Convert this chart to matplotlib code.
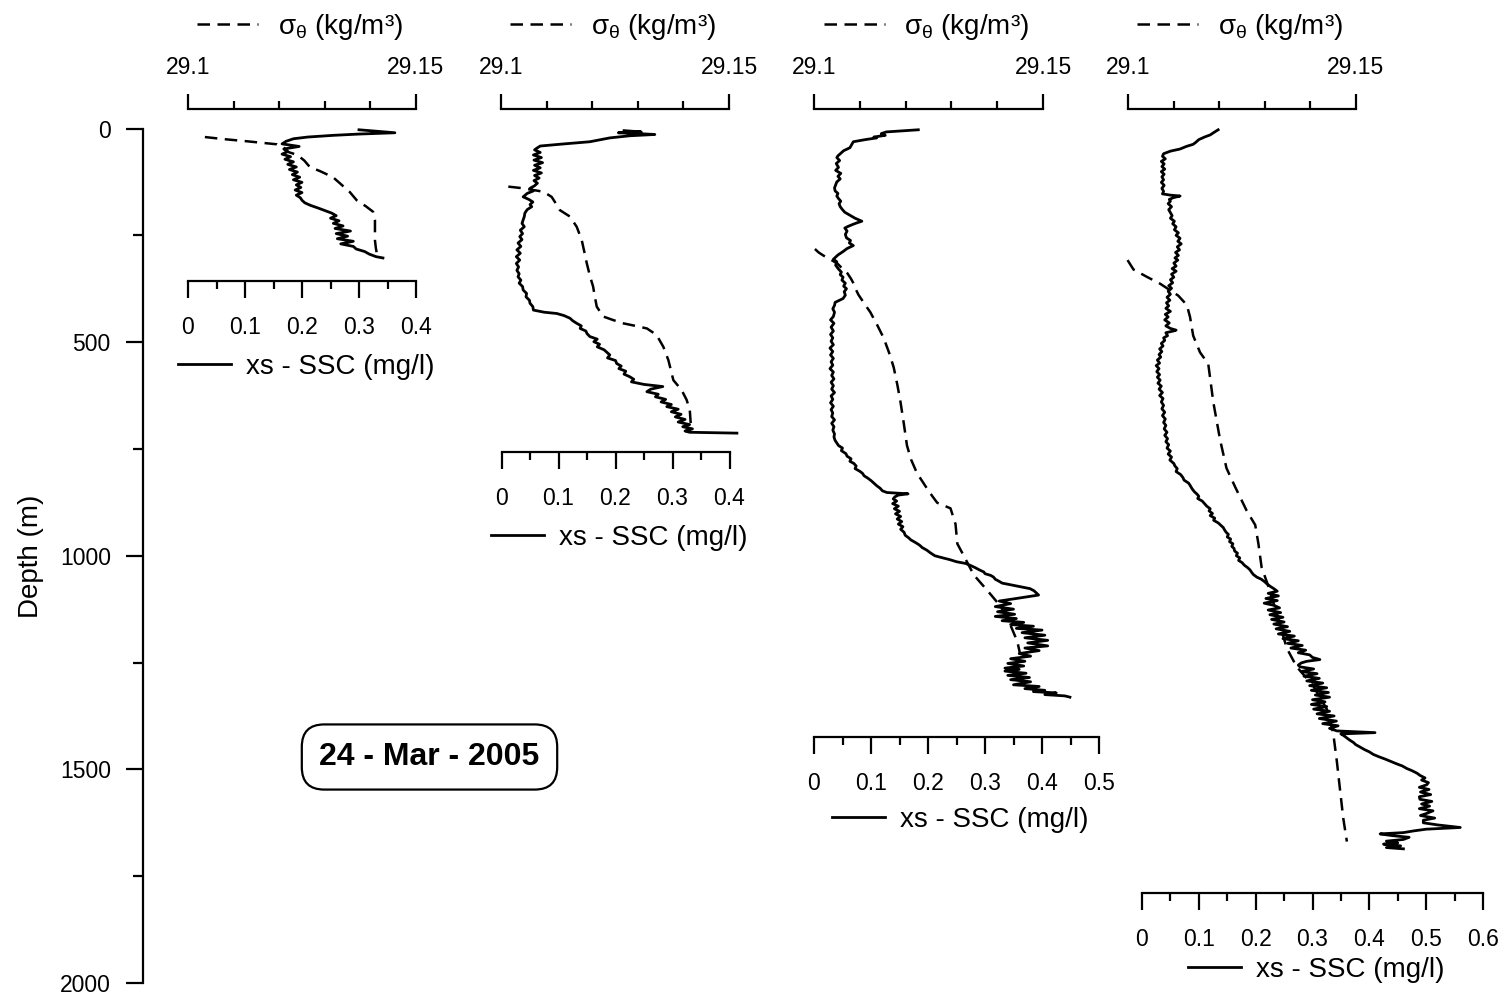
import matplotlib
matplotlib.use("Agg")
import matplotlib.pyplot as plt
from matplotlib.ticker import FixedLocator, MultipleLocator, FuncFormatter

plt.rcParams['font.family'] = ['Liberation Sans', 'DejaVu Sans']
plt.rcParams['mathtext.fontset'] = 'custom'
plt.rcParams['mathtext.rm'] = 'Liberation Sans'
plt.rcParams['mathtext.it'] = 'Liberation Sans:italic'

# ---------------------------------------------------------------- data
# Station 1
z_ssc1 = [3, 10, 13, 16, 20, 24, 30, 36, 42, 48, 54, 60, 66, 72, 78, 84, 90, 96, 102,
          108, 114, 120, 126, 132, 138, 144, 150, 156, 162, 168, 174, 180, 186, 192, 198,
          204, 210, 216, 222, 228, 234, 240, 246, 252, 258, 264, 270, 276, 282, 288, 294,
          300, 303]
ssc1 = [0.30, 0.363, 0.30, 0.255, 0.21, 0.185, 0.172, 0.165, 0.195, 0.168, 0.175, 0.165,
        0.18, 0.17, 0.185, 0.175, 0.19, 0.178, 0.192, 0.183, 0.196, 0.185, 0.20, 0.19,
        0.198, 0.188, 0.20, 0.19, 0.197, 0.20, 0.205, 0.215, 0.228, 0.24, 0.252, 0.26,
        0.25, 0.265, 0.255, 0.272, 0.258, 0.285, 0.26, 0.28, 0.262, 0.29, 0.268, 0.29,
        0.295, 0.31, 0.318, 0.33, 0.342]
z_sig1 = [20, 25, 30, 37, 45, 55, 62, 75, 90, 100, 114, 130, 149, 168, 182, 195, 215,
          240, 262, 280, 292, 300]
sig1 = [29.1037, 29.108, 29.113, 29.1195, 29.121, 29.122, 29.124, 29.1255, 29.1267,
        29.129, 29.1318, 29.1335, 29.1355, 29.137, 29.139, 29.1406, 29.141, 29.141,
        29.141, 29.1412, 29.1414, 29.1416]

# Station 2
z_ssc2 = [5, 8, 10, 12, 14, 17, 22, 31, 36, 41, 46, 50, 56, 62, 68, 74, 80, 86, 92, 98,
          104, 110, 116, 122, 128, 134, 140, 146, 152, 160, 166, 172, 178, 183, 190, 198,
          206, 214, 222, 230, 238, 246, 253, 260, 268, 276, 284, 292, 300, 308, 316, 324,
          332, 340, 347, 355, 362, 370, 378, 386, 394, 402, 409, 417, 425, 430, 433, 438,
          444, 450, 456, 462, 468, 474, 480, 487, 493, 499, 505, 511, 518, 524, 530, 537,
          543, 550, 556, 562, 568, 575, 581, 587, 593, 599, 604, 610, 616, 622, 628, 634,
          640, 646, 651, 657, 663, 669, 675, 681, 687, 693, 698, 703, 708, 711, 713]
ssc2 = [0.215, 0.245, 0.205, 0.24, 0.269, 0.225, 0.19, 0.155, 0.11, 0.068, 0.062, 0.058,
        0.068, 0.056, 0.07, 0.057, 0.072, 0.058, 0.068, 0.056, 0.07, 0.058, 0.066, 0.057,
        0.063, 0.058, 0.05, 0.056, 0.045, 0.038, 0.048, 0.055, 0.05, 0.053, 0.045, 0.041,
        0.04, 0.038, 0.036, 0.04, 0.033, 0.037, 0.032, 0.036, 0.029, 0.034, 0.027, 0.033,
        0.026, 0.032, 0.026, 0.03, 0.027, 0.031, 0.029, 0.034, 0.031, 0.037, 0.038, 0.044,
        0.043, 0.049, 0.05, 0.055, 0.056, 0.075, 0.097, 0.11, 0.12, 0.125, 0.132, 0.14,
        0.138, 0.148, 0.15, 0.155, 0.168, 0.162, 0.172, 0.168, 0.18, 0.185, 0.19, 0.186,
        0.20, 0.202, 0.21, 0.206, 0.218, 0.215, 0.225, 0.232, 0.228, 0.25, 0.283, 0.262,
        0.255, 0.275, 0.27, 0.288, 0.28, 0.298, 0.29, 0.31, 0.298, 0.315, 0.305, 0.322,
        0.31, 0.33, 0.318, 0.335, 0.322, 0.33, 0.413]
z_sig2 = [136, 140, 148, 160, 175, 191, 206, 230, 261, 290, 315, 345, 370, 395, 417, 440,
          448, 456, 462, 468, 483, 511, 542, 589, 612, 635, 659, 690]
sig2 = [29.1016, 29.1049, 29.1093, 29.1111, 29.112, 29.1129, 29.1151, 29.1166, 29.1177,
        29.1183, 29.1188, 29.1195, 29.1202, 29.1206, 29.121, 29.1224, 29.1245, 29.1268,
        29.1295, 29.132, 29.1341, 29.1356, 29.1367, 29.1378, 29.1396, 29.1407, 29.1414,
        29.1416]

# Station 3
z_ssc3 = [3, 6, 8, 12, 16, 20, 22, 26, 31, 38, 45, 52, 59, 64, 68, 75, 82, 91, 98, 105,
          112, 118, 125, 132, 139, 146, 152, 158, 164, 170, 176, 183, 190, 196, 203, 210,
          217, 221, 224, 229, 233, 240, 248, 256, 262, 268, 274, 281, 288, 296, 306, 312,
          320, 329, 336, 342, 348, 355, 362, 369, 375, 382, 390, 398, 403, 407, 414, 422,
          430, 440, 448, 456, 465, 474, 482, 490, 498, 506, 514, 522, 530, 538, 546, 554,
          562, 570, 578, 586, 594, 602, 610, 618, 626, 634, 642, 650, 658, 666, 674, 682,
          690, 698, 706, 715, 722, 730, 736, 742, 748, 754, 761, 767, 773, 779, 784, 790,
          796, 802, 807, 813, 818, 824, 830, 836, 842, 848, 852, 855, 858, 862, 867, 872,
          878, 884, 890, 896, 902, 908, 914, 920, 926, 932, 938, 945, 952, 958, 963, 969,
          975, 981, 987, 993, 1000, 1005, 1009, 1014, 1018, 1023, 1028, 1033, 1038, 1042,
          1046, 1050, 1055, 1060, 1064, 1068, 1072, 1077, 1082, 1087, 1092, 1096, 1100,
          1106, 1112, 1119, 1125, 1131, 1137, 1142, 1147, 1152, 1156, 1161, 1165, 1170,
          1174, 1180, 1186, 1192, 1198, 1204, 1211, 1216, 1222, 1229, 1235, 1241, 1247,
          1252, 1258, 1263, 1266, 1270, 1275, 1280, 1285, 1290, 1295, 1302, 1306, 1311,
          1315, 1318, 1321, 1325, 1328, 1331]
ssc3 = [0.183, 0.15, 0.127, 0.118, 0.125, 0.105, 0.11, 0.09, 0.069, 0.066, 0.063, 0.052,
        0.046, 0.042, 0.04, 0.045, 0.039, 0.043, 0.038, 0.047, 0.042, 0.046, 0.04, 0.038,
        0.036, 0.037, 0.042, 0.04, 0.043, 0.047, 0.044, 0.046, 0.05, 0.054, 0.063, 0.072,
        0.084, 0.075, 0.069, 0.06, 0.054, 0.058, 0.055, 0.057, 0.064, 0.062, 0.069, 0.058,
        0.051, 0.042, 0.034, 0.04, 0.038, 0.043, 0.048, 0.046, 0.051, 0.049, 0.055, 0.052,
        0.057, 0.053, 0.055, 0.051, 0.043, 0.037, 0.036, 0.033, 0.036, 0.034, 0.029, 0.035,
        0.03, 0.034, 0.029, 0.033, 0.03, 0.034, 0.028, 0.033, 0.029, 0.034, 0.03, 0.033,
        0.028, 0.034, 0.031, 0.035, 0.03, 0.034, 0.031, 0.036, 0.03, 0.033, 0.029, 0.034,
        0.03, 0.033, 0.031, 0.036, 0.031, 0.035, 0.033, 0.036, 0.035, 0.037, 0.04, 0.043,
        0.05, 0.048, 0.056, 0.058, 0.065, 0.063, 0.07, 0.074, 0.072, 0.08, 0.085, 0.088,
        0.094, 0.10, 0.105, 0.11, 0.116, 0.12, 0.128, 0.165, 0.148, 0.142, 0.139, 0.145,
        0.138, 0.148, 0.141, 0.15, 0.143, 0.152, 0.146, 0.154, 0.148, 0.156, 0.152, 0.158,
        0.16, 0.166, 0.17, 0.178, 0.185, 0.19, 0.198, 0.204, 0.212, 0.226, 0.238, 0.25,
        0.266, 0.275, 0.283, 0.29, 0.298, 0.30, 0.31, 0.315, 0.318, 0.325, 0.33, 0.345,
        0.36, 0.379, 0.386, 0.39, 0.394, 0.375,
        0.355, 0.325, 0.345, 0.318, 0.35, 0.322, 0.352, 0.318, 0.355, 0.33,
        0.368, 0.345, 0.385, 0.355, 0.40, 0.365, 0.405, 0.37, 0.41, 0.375,
        0.41, 0.37, 0.395, 0.36, 0.38, 0.345, 0.37, 0.34, 0.368, 0.335,
        0.36, 0.335, 0.372, 0.34, 0.378, 0.345, 0.38, 0.35, 0.395, 0.37,
        0.405, 0.385, 0.425, 0.405, 0.44, 0.449]
z_sig3 = [282, 290, 297, 306, 316, 328, 339, 352, 366, 378, 389, 410, 430, 460, 490, 525,
          559, 600, 641, 690, 742, 775, 807, 825, 843, 860, 876, 889, 926, 972, 1000, 1045,
          1082, 1119, 1165, 1201, 1230]
sig3 = [29.1002, 29.101, 29.102, 29.1035, 29.1051, 29.1062, 29.1073, 29.1081, 29.1088,
        29.1092, 29.1097, 29.111, 29.1123, 29.1138, 29.1152, 29.1164, 29.1174, 29.1182,
        29.1189, 29.1196, 29.1203, 29.1212, 29.1225, 29.1236, 29.1247, 29.1258, 29.1269,
        29.1298, 29.1309, 29.1313, 29.1327, 29.1349, 29.1379, 29.1408, 29.143, 29.1444,
        29.145]

# Station 4
z_ssc4 = [3, 8, 15, 20, 26, 32, 37, 42, 48, 53, 59, 65, 71, 77, 83, 89, 95, 101, 107, 113,
          120, 126, 133, 140, 147, 153, 156, 158, 162, 166, 170, 176, 183, 190, 197, 204,
          210, 217, 223, 230, 237, 244, 250, 257, 264, 270, 277, 284, 290, 297, 303, 308,
          315, 322, 328, 334, 341, 348, 354, 361, 368, 374, 381, 388, 395, 402, 408, 415,
          421, 428, 435, 441, 448, 455, 462, 468, 472, 474, 478, 485, 490, 496, 503, 509,
          516, 522, 529, 535, 542, 549, 555, 562, 569, 576, 582, 589, 596, 603, 610, 618,
          625, 632, 640, 648, 656, 664, 672, 680, 688, 695, 703, 711, 718, 726, 733, 740,
          748, 755, 762, 769, 776, 784, 790, 796, 803, 810, 817, 823, 830, 836, 843, 850,
          856, 861, 866, 872, 878, 884, 890, 895, 901, 906, 912, 917, 923, 928, 934, 939,
          945, 950, 956, 961, 967, 972, 978, 983, 989, 994, 1000, 1005, 1011, 1016, 1022,
          1028, 1033, 1039, 1044, 1050, 1055, 1061, 1066, 1072, 1077, 1083, 1088, 1094,
          1100, 1105, 1111, 1116, 1122, 1127, 1133, 1138, 1144, 1149, 1155, 1160, 1166,
          1171, 1177, 1183, 1188, 1194, 1199, 1205, 1210, 1216, 1221, 1227, 1232, 1238,
          1243, 1247, 1251, 1256, 1260, 1265, 1271, 1276, 1282, 1287, 1293, 1298, 1304,
          1309, 1315, 1320, 1326, 1331, 1337, 1342, 1348, 1353, 1359, 1364, 1370, 1375,
          1381, 1387, 1393, 1398, 1404, 1410, 1414, 1417, 1421, 1426, 1431, 1437, 1442,
          1448, 1454, 1459, 1465, 1470, 1476, 1481, 1487, 1492, 1498, 1503, 1509, 1514,
          1520, 1525, 1531, 1536, 1542, 1547, 1553, 1559, 1564, 1570, 1575, 1581, 1586,
          1592, 1597, 1603, 1608, 1614, 1619, 1625, 1630, 1636, 1640, 1644, 1648, 1651,
          1655, 1659, 1664, 1668, 1672, 1675, 1679, 1683, 1686]
ssc4 = [0.134, 0.128, 0.12, 0.11, 0.10, 0.095, 0.09, 0.078, 0.067, 0.05, 0.038, 0.036,
        0.041, 0.034, 0.039, 0.035, 0.04, 0.034, 0.039, 0.035, 0.038, 0.034, 0.039, 0.035,
        0.038, 0.036, 0.05, 0.067, 0.055, 0.048, 0.05, 0.046, 0.052, 0.047, 0.05, 0.053,
        0.05, 0.057, 0.054, 0.06, 0.057, 0.064, 0.06, 0.067, 0.063, 0.069, 0.062, 0.066,
        0.059, 0.064, 0.058, 0.063, 0.056, 0.06, 0.053, 0.06, 0.052, 0.056, 0.05, 0.054,
        0.047, 0.052, 0.046, 0.05, 0.044, 0.049, 0.043, 0.047, 0.042, 0.05, 0.041, 0.046,
        0.04, 0.048, 0.042, 0.05, 0.06, 0.055, 0.042, 0.045, 0.038, 0.04, 0.034, 0.037,
        0.031, 0.035, 0.03, 0.033, 0.027, 0.031, 0.025, 0.03, 0.026, 0.031, 0.027, 0.032,
        0.028, 0.034, 0.03, 0.036, 0.031, 0.037, 0.034, 0.038, 0.035, 0.04, 0.036, 0.041,
        0.038, 0.042, 0.039, 0.044, 0.04, 0.045, 0.042, 0.047, 0.044, 0.05, 0.046, 0.052,
        0.049, 0.056, 0.058, 0.062, 0.06, 0.068, 0.072, 0.074, 0.082, 0.085, 0.088, 0.092,
        0.097, 0.10, 0.098, 0.106, 0.11, 0.114, 0.12, 0.118, 0.124, 0.12, 0.128, 0.126,
        0.134, 0.138, 0.143, 0.145, 0.148, 0.152, 0.15, 0.156, 0.154, 0.16, 0.158, 0.162,
        0.163, 0.168, 0.166, 0.172, 0.17, 0.176, 0.18, 0.186, 0.19, 0.193, 0.196, 0.202,
        0.21, 0.216, 0.22, 0.226, 0.232, 0.238,
        0.222, 0.24, 0.218, 0.238, 0.215, 0.232, 0.242, 0.222, 0.244, 0.225,
        0.248, 0.228, 0.25, 0.232, 0.256, 0.236, 0.26, 0.24, 0.268, 0.248,
        0.275, 0.256, 0.282, 0.262, 0.288, 0.275, 0.295, 0.30, 0.313, 0.29,
        0.28, 0.275, 0.278, 0.302, 0.28, 0.308, 0.285, 0.312, 0.29, 0.318,
        0.295, 0.325, 0.298, 0.328, 0.305, 0.33, 0.30, 0.322, 0.298, 0.325,
        0.302, 0.33, 0.308, 0.338, 0.312, 0.342, 0.318, 0.345, 0.33, 0.343,
        0.41, 0.35, 0.355, 0.36, 0.365, 0.372,
        0.376, 0.384, 0.392, 0.40, 0.407, 0.416, 0.428, 0.437, 0.448, 0.458, 0.466, 0.475,
        0.484, 0.489, 0.498, 0.492, 0.504, 0.501, 0.488, 0.505, 0.49, 0.508, 0.488, 0.489,
        0.51, 0.492, 0.506, 0.488, 0.512, 0.501, 0.49, 0.515, 0.495, 0.495, 0.52, 0.56,
        0.50, 0.478, 0.46, 0.419, 0.44, 0.47, 0.46, 0.43, 0.45, 0.425, 0.455, 0.43, 0.46]
z_sig4 = [308, 330, 347, 363, 391, 413, 441, 485, 524, 551, 640, 729, 795, 839, 894, 928,
          972, 1027, 1072, 1149, 1216, 1260, 1304, 1359, 1415, 1481, 1548, 1614, 1669]
sig4 = [29.0999, 29.1012, 29.1041, 29.107, 29.111, 29.1129, 29.1136, 29.1143, 29.1158,
        29.1176, 29.1187, 29.1202, 29.1216, 29.1235, 29.126, 29.1279, 29.1286, 29.1293,
        29.1308, 29.133, 29.1348, 29.137, 29.1406, 29.1436, 29.145, 29.1458, 29.1465,
        29.1472, 29.148]

depth_ticks = [0, 500, 1000, 1500, 2000]
sigma_ticks = [29.1, 29.15]
sigma_labels = ['29.1', '29.15']
ssc_max = [0.4, 0.4, 0.5, 0.6]
date_label = '24 - Mar - 2005'

# ---------------------------------------------------------------- layout
W, H = 1506, 1001
Y_TOP, Y_BOT = 128.5, 983.0          # pixel rows of 0 m and 2000 m
LW = 1.6
TICK_FS = 16.5
LEG_FS = 20

fig = plt.figure(figsize=(W / 100, H / 100), dpi=100)


def rect(x0, x1):
    return [x0 / W, 1 - Y_BOT / H, (x1 - x0) / W, (Y_BOT - Y_TOP) / H]


def strip(ax):
    ax.patch.set_visible(False)
    ax.set_ylim(2000, 0)
    ax.set_yticks([])
    for s in ax.spines.values():
        s.set_visible(False)


# depth axis
axd = fig.add_axes(rect(143, 144))
axd.patch.set_visible(False)
axd.set_ylim(2000, 0)
axd.set_xticks([])
for s in ['top', 'right', 'bottom']:
    axd.spines[s].set_visible(False)
axd.spines['left'].set_linewidth(LW)
axd.yaxis.set_major_locator(FixedLocator(depth_ticks))
axd.yaxis.set_minor_locator(MultipleLocator(250))
axd.tick_params(axis='y', which='major', length=12.2, width=LW, pad=11,
                labelsize=TICK_FS)
axd.tick_params(axis='y', which='minor', length=7.2, width=LW)
fig.text(31 / W, 1 - 556 / H, 'Depth (m)', rotation=90, ha='center', va='center',
         fontsize=LEG_FS)

# per-station geometry: ssc axis pixel span, sigma axis pixel span,
# depth of ssc axis line, legend row (px)
panels = [
    dict(ssc=(188, 416), sig=(188, 416), axis_z=357, leg_y=367),
    dict(ssc=(501.5, 729.5), sig=(501, 729), axis_z=757, leg_y=538),
    dict(ssc=(814, 1099), sig=(814, 1043), axis_z=1424, leg_y=820),
    dict(ssc=(1142, 1483), sig=(1128, 1356), axis_z=1789, leg_y=970),
]
ssc_data = [(z_ssc1, ssc1), (z_ssc2, ssc2), (z_ssc3, ssc3), (z_ssc4, ssc4)]
sig_data = [(z_sig1, sig1), (z_sig2, sig2), (z_sig3, sig3), (z_sig4, sig4)]

for p, smax, (zs, ss), (zg, sg) in zip(panels, ssc_max, ssc_data, sig_data):
    # suspended sediment concentration, bottom scale
    ax = fig.add_axes(rect(*p['ssc']))
    strip(ax)
    ax.set_xlim(0, smax)
    ax.spines['bottom'].set_visible(True)
    ax.spines['bottom'].set_linewidth(LW)
    ax.spines['bottom'].set_position(('data', p['axis_z']))
    ax.xaxis.set_major_locator(MultipleLocator(0.1))
    ax.xaxis.set_minor_locator(MultipleLocator(0.05))
    ax.xaxis.set_major_formatter(FuncFormatter(lambda v, pos: f'{v:g}'))
    ax.tick_params(axis='x', which='major', length=12, width=LW, pad=13,
                   labelsize=TICK_FS)
    ax.tick_params(axis='x', which='minor', length=6, width=LW)
    l_ssc, = ax.plot(ss, zs, color='k', lw=2.0, clip_on=False)

    # potential density anomaly, top scale
    axs = fig.add_axes(rect(*p['sig']))
    strip(axs)
    axs.set_xlim(29.1, 29.15)
    axs.spines['top'].set_visible(True)
    axs.spines['top'].set_linewidth(LW)
    axs.spines['top'].set_position(('outward', 14.4))
    axs.xaxis.tick_top()
    axs.xaxis.set_major_locator(FixedLocator(sigma_ticks))
    axs.set_xticklabels(sigma_labels)
    axs.xaxis.set_minor_locator(FixedLocator([29.11, 29.12, 29.13, 29.14]))
    axs.tick_params(axis='x', which='major', length=11, width=LW, pad=10,
                    labelsize=TICK_FS)
    axs.tick_params(axis='x', which='minor', length=6, width=LW)
    l_sig, = axs.plot(sg, zg, color='k', lw=1.8, dashes=(5, 3), clip_on=False)

    scx = (p['sig'][0] + p['sig'][1]) / 2 - 2
    axs.legend([l_sig], [r'$\mathrm{\sigma_{\theta}}$ (kg/m³)'], loc='center',
               bbox_to_anchor=(scx / W, 1 - 27 / H), bbox_transform=fig.transFigure,
               frameon=False, fontsize=LEG_FS, handlelength=2.2, handletextpad=0.7,
               borderpad=0, borderaxespad=0)
    ccx = (p['ssc'][0] + p['ssc'][1]) / 2 + 4
    ax.legend([l_ssc], ['xs - SSC (mg/l)'], loc='center',
              bbox_to_anchor=(ccx / W, 1 - p['leg_y'] / H), bbox_transform=fig.transFigure,
              frameon=False, fontsize=LEG_FS, handlelength=1.9, handletextpad=0.55,
              borderpad=0, borderaxespad=0)

fig.text(429.5 / W, 1 - 757 / H, date_label, ha='center', va='center', fontsize=23,
         fontweight='bold',
         bbox=dict(boxstyle='round,pad=0.55,rounding_size=0.7', fc='white', ec='black',
                   lw=LW))

fig.savefig('out.png', dpi=100)
